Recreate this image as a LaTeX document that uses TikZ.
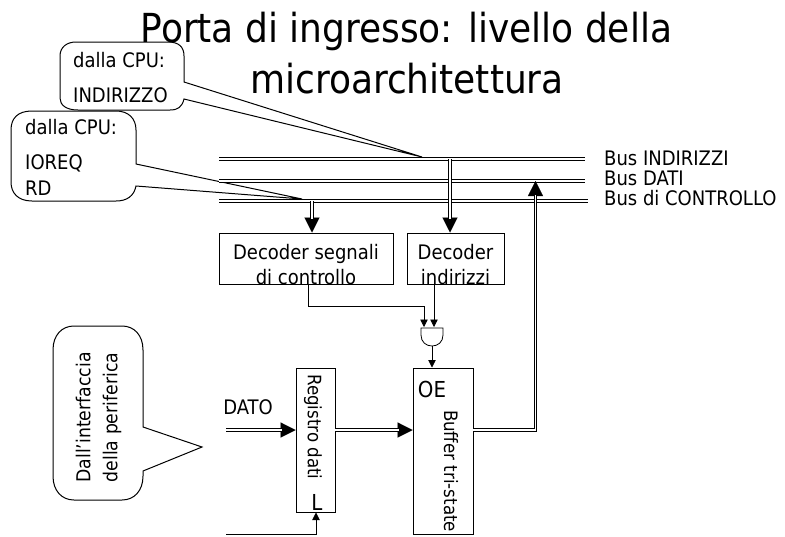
\documentclass[tikz,border=0pt]{standalone}
\usepackage{fontspec}
\setmainfont{DejaVu Sans Condensed}
\usetikzlibrary{arrows.meta,calc}
\tikzset{
  x=1pt,y=-1pt,
  txt/.style={inner sep=0pt,font=\fontsize{20}{25}\selectfont,text=black},
  rtxt/.style={inner sep=0pt,font=\fontsize{18.5}{27}\selectfont,text=black,rotate=-90},
  title/.style={inner sep=0pt,anchor=base,font=\fontsize{40}{50}\selectfont},
  bigtxt/.style={inner sep=0pt,font=\fontsize{22}{26}\selectfont},
  boxn/.style={draw,line width=.8pt,inner sep=0pt},
  callout/.style={draw,line width=1pt},
  bus/.style={draw=black,line width=.9pt,double=white,double distance=1.3pt},
  bustip/.style={line width=.1pt,-{Triangle[length=15pt,width=15pt]}},
  thin arrow/.style={line width=.8pt,-{Triangle[length=7.5pt,width=7.5pt]}},
}
\begin{document}
\begin{tikzpicture}
\useasboundingbox (0,0) rectangle (785,536);
% title
\node[title] (ttl1) at (406.5,42) {Porta di ingresso: livello della};
\node[title] (ttl2) at (407,93) {microarchitettura};
% callouts
\draw[callout] (184,82) -- (422,157) -- (184,99) .. controls (182,107) and (178,110) .. (170,110) -- (78,110) .. controls (66,110) and (60,105) .. (60,98) -- (60,56) .. controls (60,47) and (67,42) .. (76,42) -- (168,42) .. controls (179,42) and (184,47) .. (184,56) -- cycle;
\draw[callout] (136,164) -- (302,199) -- (136,186) .. controls (134,196) and (127,201) .. (116,201) -- (32,201) .. controls (18,201) and (11,193) .. (11,182) -- (11,130) .. controls (11,118) and (18,111) .. (32,111) -- (116,111) .. controls (128,111) and (136,118) .. (136,130) -- cycle;
\draw[callout] (143,427) -- (202,447) -- (143,471) -- (143,476) .. controls (143,491) and (134,500) .. (122,500) -- (74,500) .. controls (62,500) and (53,491) .. (53,476) -- (53,350) .. controls (53,335) and (62,326) .. (74,326) -- (122,326) .. controls (134,326) and (143,335) .. (143,350) -- cycle;
\node[txt,anchor=west] (c1a) at (73,60) {dalla CPU:};
\node[txt,anchor=west] (c1b) at (73,95) {INDIRIZZO};
\node[txt,anchor=west] (c2a) at (25,127) {dalla CPU:};
\node[txt,anchor=west] (c2b) at (25,163) {IOREQ};
\node[txt,anchor=west] (c2c) at (25,188) {RD};
\node[rtxt,rotate=180,align=center,font=\fontsize{19.2}{27}\selectfont] (c3) at (98.5,417.5) {Dall'interfaccia\\della periferica};
% buses
\coordinate (b1l) at (219,159); \coordinate (b1r) at (585,159);
\coordinate (b2l) at (219,181); \coordinate (b2r) at (585,181);
\coordinate (b3l) at (219,201); \coordinate (b3r) at (588,201);
\draw[bus] (b1l) -- (b1r);
\draw[bus] (b2l) -- (b2r);
\draw[bus] (b3l) -- (b3r);
\node[txt,anchor=west] (l1) at (604,158) {Bus INDIRIZZI};
\node[txt,anchor=west] (l2) at (604,178) {Bus DATI};
\node[txt,anchor=west] (l3) at (604,198) {Bus di CONTROLLO};
% boxes
\node[boxn,minimum width=174pt,minimum height=51pt] (dec1) at (306,258.5) {};
\node[boxn,minimum width=97pt,minimum height=51pt] (dec2) at (455.5,258.5) {};
\node[txt,align=center] (dec1t) at (306,264.5) {Decoder segnali\\di controllo};
\node[txt,align=center] (dec2t) at (455.5,264.5) {Decoder\\indirizzi};
\node[boxn,minimum width=39pt,minimum height=144pt] (reg) at (315.5,440) {};
\node[boxn,minimum width=60pt,minimum height=166pt] (buf) at (443,451) {};
\node[rtxt] (regt) at (313,427) {Registro dati};
\node[bigtxt] (L) at (317,502) {L};
\node[bigtxt] (OE) at (432,389) {OE};
\node[rtxt] (buft) at (451,471) {Buffer tri-state};
\node[txt] (dato) at (248,407) {DATO};
% gate
\draw[line width=.8pt] (421,328) -- (443,328) -- (443,335) .. controls (443,342) and (438,346) .. (432,346) .. controls (426,346) and (421,342) .. (421,335) -- cycle;
\coordinate (gi1) at (424,327); \coordinate (gi2) at (434,327); \coordinate (go) at (432,346);
% wide arrows
\coordinate (a1s) at (312,201); \coordinate (a1e) at (312,232.5);
\draw[bustip] (a1s) -- (a1e); \draw[bus,shorten >=14pt] (a1s) -- (a1e);
\coordinate (a2s) at (450,159); \coordinate (a2e) at (450,232.5);
\draw[bustip] (a2s) -- (a2e); \draw[bus,shorten >=14pt] (a2s) -- (a2e);
\coordinate (din) at (226,430); 
\draw[bustip] (din) -- (reg.west |- din); \draw[bus,shorten >=14pt] (din) -- (reg.west |- din);
\draw[bustip] (reg.east |- din) -- (buf.west |- din); \draw[bus,shorten >=14pt] (reg.east |- din) -- (buf.west |- din);
\coordinate (cnr) at (535.5,430); \coordinate (up) at (535.5,181);
\draw[bustip] (cnr) -- (up);
\draw[bus,shorten >=14pt] (buf.east |- din) -- (cnr) -- (up);
% thin connectors
\draw[thin arrow] (308,284) -- (308,306) -- (424,306) -- (gi1);
\draw[thin arrow] (434,284) -- (gi2);
\draw[thin arrow] (go) -- (432,367.5);
\coordinate (ctl) at (226,534);
\draw[thin arrow] (ctl) -- (316,534) -- (316,512.5);
\end{tikzpicture}
\end{document}
